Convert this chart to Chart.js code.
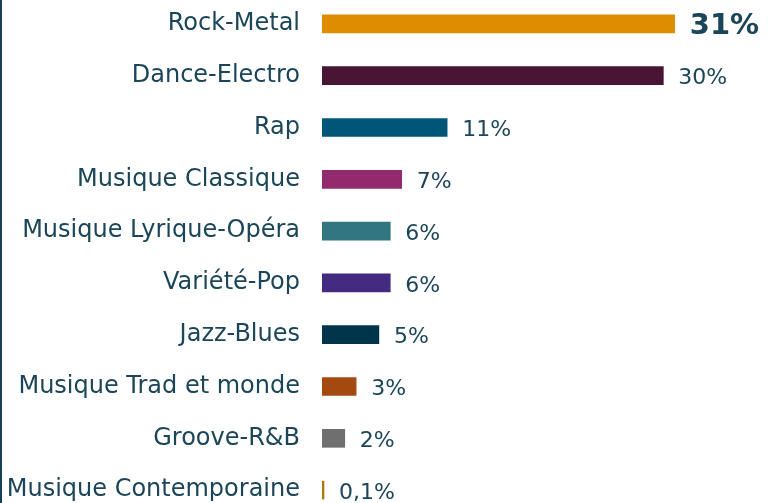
<!DOCTYPE html>
<html>
<head>
<meta charset="utf-8">
<script src="https://cdn.jsdelivr.net/npm/chart.js@4"></script>
<style>
  html, body { margin: 0; padding: 0; background: #fff; overflow: hidden; }
  #wrap {
    position: absolute; left: 0; top: -2px;
    width: 768px; height: 518px;
    border-left: 2px solid #15405a;
    box-sizing: border-box;
  }
</style>
</head>
<body>
<div id="wrap"><canvas id="myChart"></canvas></div>
<script>
var genres = ["Rock-Metal", "Dance-Electro", "Rap", "Musique Classique", "Musique Lyrique-Opéra",
  "Variété-Pop", "Jazz-Blues", "Musique Trad et monde", "Groove-R&B", "Musique Contemporaine"];
var shares = [31, 30, 11, 7, 6, 6, 5, 3, 2, 0.1];
var shareLabels = ["31%", "30%", "11%", "7%", "6%", "6%", "5%", "3%", "2%", "0,1%"];
var barColors = [
  "#de8c00",
  "#491534",
  "#005677",
  "#932a6e",
  "#317681",
  "#452a82",
  "#00344a",
  "#a24a0f",
  "#6f6f6f",
  "#a87a10"
];

var textColor = "#1b4558";
var fontFamily = "'DejaVu Sans', sans-serif";

// writes the percentage next to each bar, the first one bigger and bold
var valueLabels = {
  id: "valueLabels",
  afterDatasetsDraw: function(chart) {
    var ctx = chart.ctx;
    var meta = chart.getDatasetMeta(0);
    ctx.save();
    ctx.fillStyle = textColor;
    ctx.textAlign = "left";
    ctx.textBaseline = "middle";
    meta.data.forEach(function(bar, i) {
      if (i === 0) {
        ctx.font = "bold 29px " + fontFamily;
      } else {
        ctx.font = "22px " + fontFamily;
      }
      ctx.fillText(shareLabels[i], bar.x + 15, bar.y + 3);
    });
    ctx.restore();
  }
};

new Chart("myChart", {
  type: "bar",
  data: {
    labels: genres,
    datasets: [{
      data: shares,
      backgroundColor: barColors,
      barThickness: 18,
      minBarLength: 2
    }]
  },
  options: {
    indexAxis: "y",
    responsive: true,
    maintainAspectRatio: false,
    animation: false,
    layout: { padding: 0 },
    plugins: {
      legend: { display: false },
      tooltip: { enabled: false }
    },
    scales: {
      x: {
        display: false,
        min: 0,
        max: 39.2
      },
      y: {
        grid: { display: false, drawTicks: false },
        border: { display: false },
        ticks: {
          color: textColor,
          padding: 22,
          font: { family: fontFamily, size: 24 }
        },
        afterFit: function(scale) {
          // fixed label column, no extra room above/below the rows
          scale.width = 320;
          scale.paddingTop = 0;
          scale.paddingBottom = 0;
        }
      }
    }
  },
  plugins: [valueLabels]
});
</script>
</body>
</html>
